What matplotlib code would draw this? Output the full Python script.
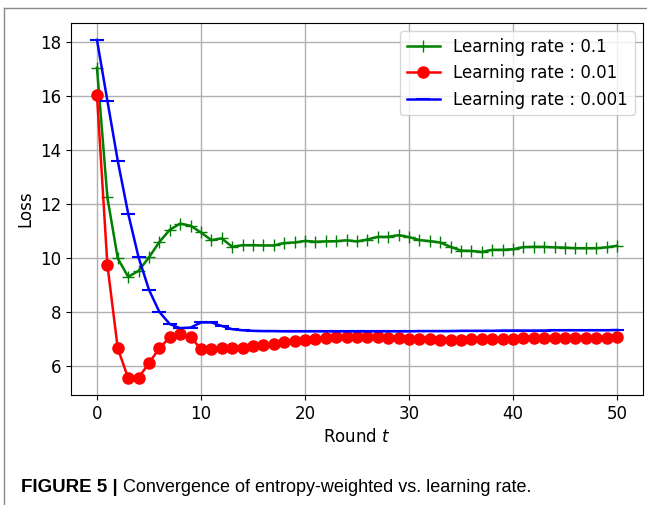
import matplotlib
matplotlib.use("Agg")
import matplotlib.pyplot as plt
import numpy as np
from matplotlib.lines import Line2D

# rounds and losses
rounds = np.arange(0, 51)

loss_lr_01 = [17.05, 12.25, 9.99, 9.31, 9.53, 10.03, 10.6, 11.05, 11.28, 11.2,
              10.95, 10.67, 10.73, 10.42, 10.48, 10.48, 10.47, 10.47, 10.56, 10.58,
              10.64, 10.61, 10.62, 10.63, 10.66, 10.62, 10.69, 10.79, 10.79, 10.85,
              10.78, 10.67, 10.63, 10.58, 10.42, 10.28, 10.27, 10.23, 10.31, 10.31,
              10.33, 10.41, 10.42, 10.42, 10.40, 10.39, 10.37, 10.37, 10.37, 10.40,
              10.46]

loss_lr_001 = [16.04, 9.75, 6.66, 5.56, 5.58, 6.11, 6.67, 7.07, 7.19, 7.09,
               6.63, 6.63, 6.66, 6.67, 6.69, 6.73, 6.78, 6.81, 6.88, 6.93,
               6.98, 7.01, 7.05, 7.07, 7.09, 7.09, 7.08, 7.07, 7.05, 7.03,
               7.01, 7.0, 6.99, 6.98, 6.98, 6.98, 6.99, 6.99, 7.0, 7.01,
               7.02, 7.03, 7.04, 7.05, 7.05, 7.05, 7.06, 7.06, 7.06, 7.06,
               7.07]

loss_lr_0001 = [18.08, 15.83, 13.6, 11.65, 10.03, 8.83, 8.01, 7.56, 7.41, 7.43,
                7.62, 7.62, 7.49, 7.37, 7.33, 7.31, 7.30, 7.30, 7.29, 7.29,
                7.29, 7.29, 7.29, 7.29, 7.29, 7.29, 7.29, 7.29, 7.29, 7.29,
                7.29, 7.30, 7.30, 7.30, 7.30, 7.31, 7.31, 7.31, 7.31, 7.32,
                7.32, 7.32, 7.32, 7.32, 7.33, 7.33, 7.33, 7.33, 7.33, 7.33,
                7.34]

labels = ["Learning rate : 0.1", "Learning rate : 0.01", "Learning rate : 0.001"]

fig = plt.figure(figsize=(6.47, 5.05), dpi=100)
ax = fig.add_axes([0.1097, 0.2178, 0.8841, 0.7367])

ax.plot(rounds, loss_lr_01, color="green", marker="+", markersize=9, lw=1.8, label=labels[0])
ax.plot(rounds, loss_lr_001, color="red", marker="o", markersize=8, lw=1.8, label=labels[1])
ax.plot(rounds, loss_lr_0001, color="blue", marker="_", markersize=10, mew=1.5, lw=1.8, label=labels[2])

ax.set_xticks([0, 10, 20, 30, 40, 50])
ax.set_yticks([6, 8, 10, 12, 14, 16, 18])
ax.tick_params(labelsize=12)
ax.grid(True, color="#b0b0b0", lw=1.0)
ax.set_xlabel("Round $t$", fontsize=12)
ax.set_ylabel("Loss", fontsize=12)
ax.legend(loc="upper right", fontsize=12)

# caption and page frame
fig.text(21 / 647, 1 - 487 / 505, "FIGURE 5 |", fontsize=13.5, fontweight="bold",
         family="Liberation Sans", va="center", ha="left")
fig.text(123 / 647, 1 - 487 / 505, "Convergence of entropy-weighted vs. learning rate.",
         fontsize=13, family="Liberation Sans", va="center", ha="left")
fig.add_artist(Line2D([4 / 647, 4 / 647], [0, 1 - 8 / 505], color="#888888", lw=1,
                      transform=fig.transFigure))
fig.add_artist(Line2D([4 / 647, 1], [1 - 8 / 505, 1 - 8 / 505], color="#888888", lw=1,
                      transform=fig.transFigure))

fig.savefig("out.png", dpi=100)
